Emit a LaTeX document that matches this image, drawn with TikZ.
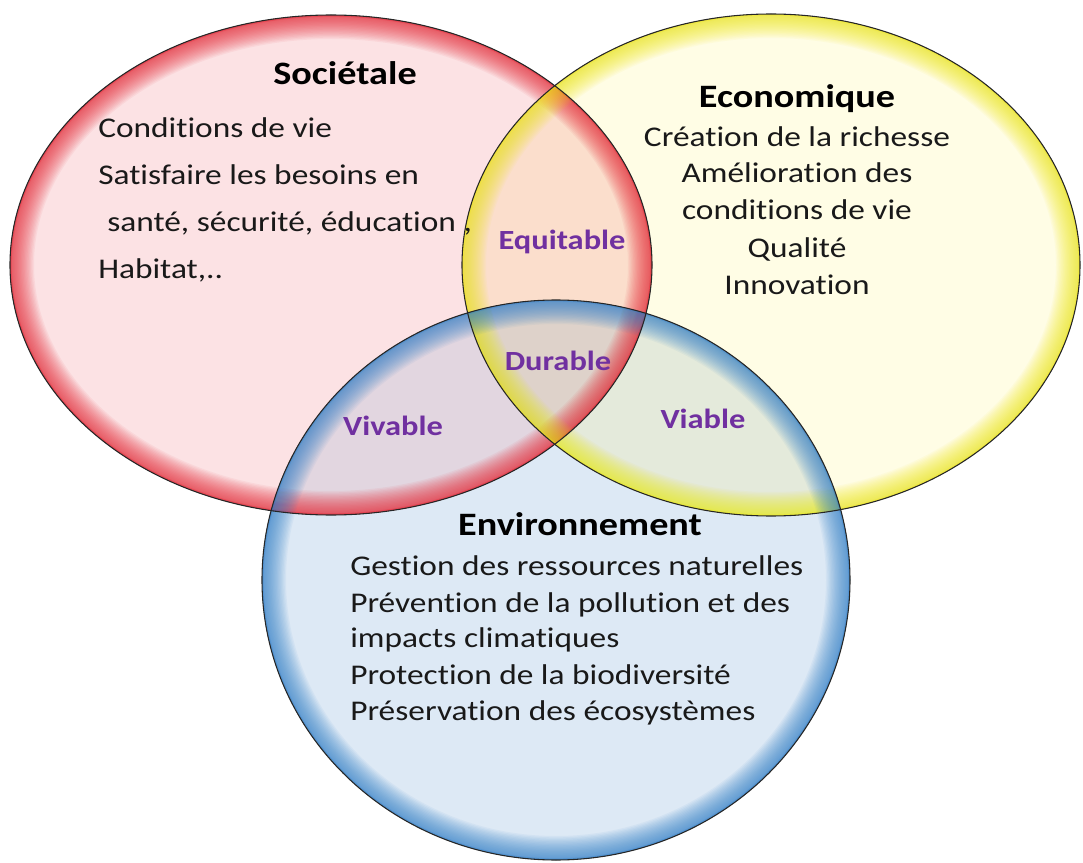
\documentclass[tikz,border=0pt]{standalone}
\usepackage{fontspec}
\setmainfont{Carlito}[FakeStretch=1.17, Ligatures=NoCommon]
\definecolor{redfill}{RGB}{252,226,228}
\definecolor{yelfill}{RGB}{255,253,229}
\definecolor{blufill}{RGB}{221,233,245}
\definecolor{ryfill}{RGB}{251,222,204}
\definecolor{rbfill}{RGB}{226,214,224}
\definecolor{ybfill}{RGB}{228,234,219}
\definecolor{rybfill}{RGB}{222,210,202}
\definecolor{redglow}{RGB}{230,30,45}
\definecolor{yelglow}{RGB}{238,232,20}
\definecolor{bluglow}{RGB}{45,125,200}
\definecolor{lblpurple}{RGB}{112,48,160}
\definecolor{txt}{RGB}{25,25,25}
\tikzset{
  redE/.style={insert path={(331,265) ellipse [x radius=321, y radius=250]}},
  yelE/.style={insert path={(771,265) ellipse [x radius=309, y radius=251]}},
  bluE/.style={insert path={(556,580) ellipse [x radius=294, y radius=280]}},
  outline/.style={draw=black!85, line width=0.8pt},
  titletext/.style={font=\bfseries\fontsize{24.5}{29}\selectfont, text=black, inner sep=0pt},
  bodytext/.style={font=\fontsize{21.4}{26}\selectfont, text=txt, inner sep=0pt},
  lbltext/.style={font=\bfseries\fontsize{20.8}{25}\selectfont, text=lblpurple, inner sep=0pt}
}
\newcommand\glowlayers[2]{%
  \begin{scope}
    \clip[#1];
    \foreach \w in {36,34,...,2}{
      \draw[#2, opacity=0.06, line width=\w pt, #1];
    }
    \draw[#2, opacity=0.3, line width=2.5pt, #1];
  \end{scope}}
\begin{document}
\begin{tikzpicture}[x=0.75pt,y=-0.75pt]
\useasboundingbox (0,0) rectangle (1083,863);
\fill[white] (0,0) rectangle (1083,863);
% base fills
\fill[redfill, redE];
\fill[yelfill, yelE];
\fill[blufill, bluE];
% pairwise overlaps
\begin{scope}\clip[redE]; \fill[ryfill, yelE]; \end{scope}
\begin{scope}\clip[redE]; \fill[rbfill, bluE]; \end{scope}
\begin{scope}\clip[yelE]; \fill[ybfill, bluE]; \end{scope}
\begin{scope}\clip[redE]; \clip[yelE]; \fill[rybfill, bluE]; \end{scope}
% glows
\glowlayers{redE}{redglow}
\glowlayers{yelE}{yelglow}
\glowlayers{bluE}{bluglow}
% outlines
\path[outline, redE];
\path[outline, yelE];
\path[outline, bluE];
% Societale
\node[titletext, anchor=base] (soc) at (345,85) {Sociétale};
\node[bodytext, anchor=base west] (s1) at (98,138) {Conditions de vie};
\node[bodytext, anchor=base west] (s2) at (98,185) {Satisfaire les besoins en};
\node[bodytext, anchor=base west] (s3) at (107,232) {santé, sécurité, éducation ,};
\node[bodytext, anchor=base west] (s4) at (98,279) {Habitat,..};
% Economique
\node[titletext, anchor=base] (eco) at (797,108) {Economique};
\node[bodytext, anchor=base] (e1) at (797,147) {Création de la richesse};
\node[bodytext, anchor=base] (e2) at (797,183) {Amélioration des};
\node[bodytext, anchor=base] (e3) at (797,220) {conditions de vie};
\node[bodytext, anchor=base] (e4) at (797,258) {Qualité};
\node[bodytext, anchor=base] (e5) at (797,295) {Innovation};
% Environnement
\node[titletext, anchor=base] (env) at (580,535) {Environnement};
\node[bodytext, anchor=base west] (b1) at (350,575) {Gestion des ressources naturelles};
\node[bodytext, anchor=base west] (b2) at (350,612) {Prévention de la pollution et des};
\node[bodytext, anchor=base west] (b3) at (350,647) {impacts climatiques};
\node[bodytext, anchor=base west] (b4) at (350,684) {Protection de la biodiversité};
\node[bodytext, anchor=base west] (b5) at (350,720) {Préservation des écosystèmes};
% intersection labels
\node[lbltext, anchor=base] (equ) at (562,250) {Equitable};
\node[lbltext, anchor=base] (dur) at (558,370) {Durable};
\node[lbltext, anchor=base] (viv) at (393,435) {Vivable};
\node[lbltext, anchor=base] (via) at (703,428) {Viable};
\end{tikzpicture}
\end{document}
